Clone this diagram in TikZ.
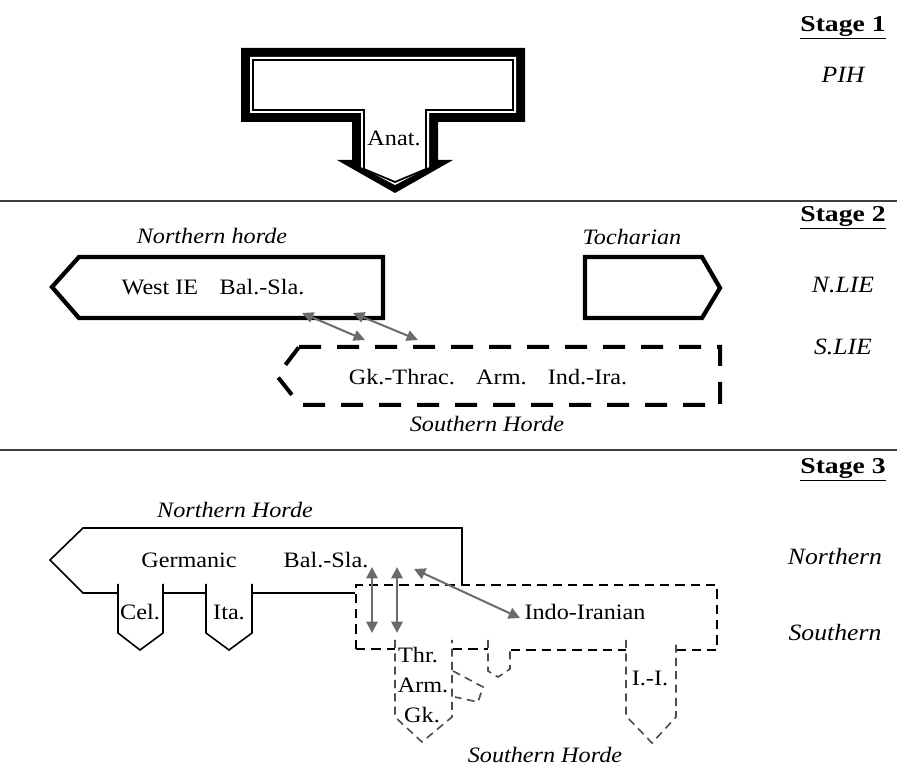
\documentclass[tikz,border=0pt]{standalone}
\usepackage{fontspec}
\setmainfont[FakeStretch=1.1]{Liberation Serif}
\newfontfamily\stagefont[FakeStretch=1.22]{Liberation Serif}
\usetikzlibrary{arrows.meta}
\begin{document}
\begin{tikzpicture}[x=0.75pt,y=-0.75pt,
  lbl/.style={font=\fontsize{16.5}{18}\selectfont, inner sep=0pt},
  hordelbl/.style={font=\fontsize{16.5}{18}\selectfont\itshape, inner sep=0pt},
  stagelbl/.style={font=\stagefont\fontsize{17}{19}\selectfont\bfseries, inner sep=0pt},
  rowlbl/.style={font=\fontsize{17.5}{19}\selectfont\itshape, inner sep=0pt},
  rule/.style={line width=1.1pt, draw=black!75},
  thickbox/.style={line width=3.2pt, line join=miter},
  thickdash/.style={line width=3pt, dash pattern=on 16.5pt off 12pt},
  thinbox/.style={line width=1.2pt},
  thindash/.style={line width=1.6pt, dash pattern=on 7pt off 4.5pt},
  pocketdash/.style={line width=1.2pt, draw=black!70, dash pattern=on 6pt off 4pt},
  link/.style={draw=black!58, line width=1.5pt,
    {Triangle[length=8.5pt,width=8pt]}-{Triangle[length=8.5pt,width=8pt]}},
  biglink/.style={draw=black!58, line width=1.5pt,
    {Triangle[length=8.5pt,width=8.5pt]}-{Triangle[length=8.5pt,width=8.5pt]}},
]
\useasboundingbox (0,0) rectangle (897,766);

% section rules
\draw[rule] (0,201) -- (897,201);
\draw[rule] (0,450) -- (897,450);

% stage labels on the right
\node[stagelbl] (st1) at (843,28) {\underline{Stage 1}};
\node[rowlbl]   (pih) at (843,75) {PIH};
\node[stagelbl] (st2) at (843,218) {\underline{Stage 2}};
\node[rowlbl]   (nlie) at (843,285) {N.LIE};
\node[rowlbl]   (slie) at (843,347) {S.LIE};
\node[stagelbl] (st3) at (843,470) {\underline{Stage 3}};
\node[rowlbl]   (north) at (835,557) {Northern};
\node[rowlbl]   (south) at (835,633) {Southern};

% ---- Stage 1: PIH block with the Anatolian split ----
\fill (241,48) -- (525,48) -- (525,122) -- (438,122) -- (438,160) -- (453,160)
  -- (395,193) -- (337,160) -- (352,160) -- (352,122) -- (241,122) -- cycle;
\fill[white] (250,57) -- (516,57) -- (516,113) -- (429,113) -- (429,167)
  -- (395,185) -- (361,167) -- (361,113) -- (250,113) -- cycle;
\draw[line width=1.3pt] (253,60) -- (513,60) -- (513,110) -- (426,110) -- (426,169)
  -- (395,182) -- (364,169) -- (364,110) -- (253,110) -- cycle;
\node[lbl] (anat) at (394,138) {Anat.};

% ---- Stage 2 ----
\node[hordelbl] (nh2) at (212,236) {Northern horde};
\draw[thickbox] (52,287) -- (79,257) -- (383,257) -- (383,318) -- (79,318) -- cycle;
\node[lbl] (nb2) at (213,287) {West IE\hspace{0.7em} Bal.-Sla.};

\node[hordelbl] (toch) at (632,237) {Tocharian};
\draw[thickbox] (585,257) -- (702,257) -- (720,288) -- (702,318) -- (585,318) -- cycle;

\draw[thickdash] (299,347) -- (720,347) -- (720,405) -- (300,405) -- (277,376) -- cycle;
\node[lbl] (sb2) at (488,377) {Gk.-Thrac.\hspace{0.6em} Arm.\hspace{0.6em} Ind.-Ira.};
\node[hordelbl] (sh2) at (487,424) {Southern Horde};

\coordinate (l1a) at (302,313);
\coordinate (l1b) at (365,340);
\coordinate (l2a) at (353,313);
\coordinate (l2b) at (418,340);
\draw[link] (l1a) -- (l1b);
\draw[link] (l2a) -- (l2b);

% ---- Stage 3 ----
\node[hordelbl] (nh3) at (235,510) {Northern Horde};
\draw[thinbox] (462,585) -- (462,528) -- (83,528) -- (50,560) -- (83,593) -- (118,593);
\draw[thinbox] (163,593) -- (206,593);
\draw[thinbox] (252,593) -- (355,593);
% Celtic and Italic pockets
\draw[thinbox] (118,584) -- (118,633) -- (140,650) -- (163,633) -- (163,584);
\draw[thinbox] (206,584) -- (206,633) -- (229,650) -- (252,633) -- (252,584);
\node[lbl] (ger) at (189,560) {Germanic};
\node[lbl] (bs3) at (326,560) {Bal.-Sla.};
\node[lbl] (cel) at (140,612) {Cel.};
\node[lbl] (ita) at (229,612) {Ita.};

% southern block
\draw[thindash] (356,649) -- (356,585) -- (717,585) -- (717,650) -- (676,650);
\draw[thindash] (356,649) -- (395,649);
\draw[thindash] (453,649) -- (488,649);
\draw[thindash] (511,650) -- (626,650);
% Thracian / Armenian / Greek pocket
\draw[pocketdash] (395,640) -- (395,717) -- (422,742) -- (452,717) -- (452,640);
\draw[pocketdash] (453,671) -- (483,687) -- (478,702) -- (455,697);
\draw[pocketdash] (488,640) -- (488,671) -- (498,677) -- (510,669) -- (510,647);
% Indo-Iranian pocket
\draw[pocketdash] (626,640) -- (626,716) -- (652,743) -- (676,717) -- (676,640);
\node[lbl] (ii) at (585,612) {Indo-Iranian};
\node[lbl] (thr) at (418,655) {Thr.};
\node[lbl] (arm) at (423,685) {Arm.};
\node[lbl] (gk) at (422,715) {Gk.};
\node[lbl] (iishort) at (650,678) {I.-I.};
\node[hordelbl] (sh3) at (545,755) {Southern Horde};

\coordinate (v1a) at (372,567);
\coordinate (v1b) at (372,633);
\coordinate (v2a) at (397,567);
\coordinate (v2b) at (397,633);
\coordinate (d1a) at (414,569);
\coordinate (d1b) at (520,618);
\draw[biglink] (v1a) -- (v1b);
\draw[biglink] (v2a) -- (v2b);
\draw[biglink] (d1a) -- (d1b);
\end{tikzpicture}
\end{document}
